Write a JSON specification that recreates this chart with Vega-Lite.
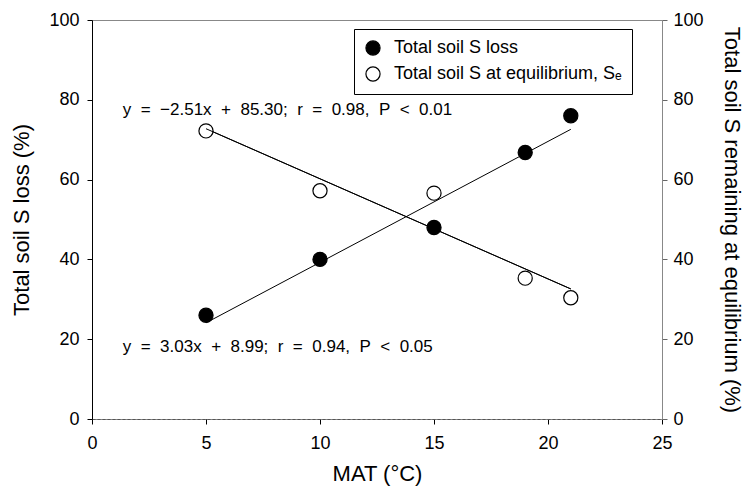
{
  "$schema": "https://vega.github.io/schema/vega-lite/v6.json",
  "width": 570,
  "height": 399,
  "autosize": {"type": "none"},
  "padding": {"left": 92, "top": 20, "right": 85, "bottom": 67},
  "config": {
    "font": "Liberation Sans",
    "view": {"stroke": "#888888", "strokeWidth": 1},
    "axis": {"grid": false, "labelFont": "Liberation Sans", "titleFont": "Liberation Sans", "labelFontSize": 18, "titleFontSize": 22, "titleFontWeight": "normal", "labelColor": "black", "titleColor": "black", "tickSize": 5, "labelFlush": false},
    "legend": {"labelFont": "Liberation Sans"}
  },
  "datasets": {
    "pts": [
      {"mat": 5, "value": 26, "series": "Total soil S loss"},
      {"mat": 10, "value": 40, "series": "Total soil S loss"},
      {"mat": 15, "value": 48, "series": "Total soil S loss"},
      {"mat": 19, "value": 66.8, "series": "Total soil S loss"},
      {"mat": 21, "value": 76, "series": "Total soil S loss"},
      {"mat": 5, "value": 72.2, "series": "Total soil S at equilibrium, Sₑ"},
      {"mat": 10, "value": 57.2, "series": "Total soil S at equilibrium, Sₑ"},
      {"mat": 15, "value": 56.6, "series": "Total soil S at equilibrium, Sₑ"},
      {"mat": 19, "value": 35.3, "series": "Total soil S at equilibrium, Sₑ"},
      {"mat": 21, "value": 30.4, "series": "Total soil S at equilibrium, Sₑ"}
    ],
    "fits": [
      {"mat": 5, "value": 24.1, "fit": "loss"},
      {"mat": 21, "value": 72.6, "fit": "loss"},
      {"mat": 5, "value": 72.75, "fit": "equil"},
      {"mat": 21, "value": 32.6, "fit": "equil"}
    ],
    "labels": [
      {"mat": 1.35, "value": 77.5, "text": "y\u00a0 = \u00a0−2.51x\u00a0 + \u00a085.30; \u00a0r\u00a0 = \u00a00.98, \u00a0P\u00a0 < \u00a00.01"},
      {"mat": 1.35, "value": 18.1, "text": "y\u00a0 = \u00a03.03x\u00a0 + \u00a08.99; \u00a0r\u00a0 = \u00a00.94, \u00a0P\u00a0 < \u00a00.05"}
    ]
  },
  "layer": [
    {
      "layer": [
        {
          "data": {"name": "fits"},
          "mark": {"type": "line", "color": "black", "strokeWidth": 1},
          "encoding": {
            "x": {"field": "mat", "type": "quantitative", "scale": {"domain": [0, 25], "nice": false}, "axis": {"title": "MAT (°C)", "values": [0, 5, 10, 15, 20, 25], "domainColor": "#555555", "domainDash": [3, 2], "tickColor": "black", "labelPadding": 10, "titlePadding": 11}},
            "y": {"field": "value", "type": "quantitative", "scale": {"domain": [0, 100], "nice": false}, "axis": {"title": "Total soil S loss (%)", "values": [0, 20, 40, 60, 80, 100], "domainColor": "black", "tickColor": "black", "labelPadding": 8, "titlePadding": 15}},
            "detail": {"field": "fit"}
          }
        },
        {
          "data": {"name": "pts"},
          "mark": {"type": "circle", "size": 200, "stroke": "black", "strokeWidth": 1.2, "opacity": 1},
          "encoding": {
            "x": {"field": "mat", "type": "quantitative", "scale": {"domain": [0, 25], "nice": false}},
            "y": {"field": "value", "type": "quantitative"},
            "fill": {"field": "series", "type": "nominal",
              "scale": {"domain": ["Total soil S loss", "Total soil S at equilibrium, Sₑ"], "range": ["black", "white"]},
              "legend": {"title": null, "orient": "none", "legendX": 262, "legendY": 9, "direction": "vertical", "strokeColor": "black", "fillColor": "white", "padding": 10, "labelFontSize": 18, "labelColor": "black", "labelLimit": 400, "symbolSize": 200, "symbolStrokeColor": "black", "symbolStrokeWidth": 1.2, "symbolType": "circle", "rowPadding": 6, "labelOffset": 12, "offset": 0}
            }
          }
        },
        {
          "data": {"name": "labels"},
          "mark": {"type": "text", "align": "left", "baseline": "middle", "fontSize": 17, "color": "black", "font": "Liberation Sans"},
          "encoding": {
            "x": {"field": "mat", "type": "quantitative", "scale": {"domain": [0, 25], "nice": false}},
            "y": {"field": "value", "type": "quantitative"},
            "text": {"field": "text"}
          }
        }
      ]
    },
    {
      "data": {"name": "fits"},
      "transform": [{"filter": "datum.fit == 'equil'"}],
      "mark": {"type": "line", "color": "black", "strokeWidth": 1},
      "encoding": {
        "x": {"field": "mat", "type": "quantitative", "scale": {"domain": [0, 25], "nice": false}},
        "y": {"field": "value", "type": "quantitative", "scale": {"domain": [0, 100], "nice": false}, "axis": {"orient": "right", "title": "Total soil S remaining at equilibrium (%)", "values": [0, 20, 40, 60, 80, 100], "domainColor": "#888888", "tickColor": "#666666", "labelPadding": 6, "titlePadding": 16}}
      }
    }
  ],
  "resolve": {"scale": {"y": "independent"}}
}
